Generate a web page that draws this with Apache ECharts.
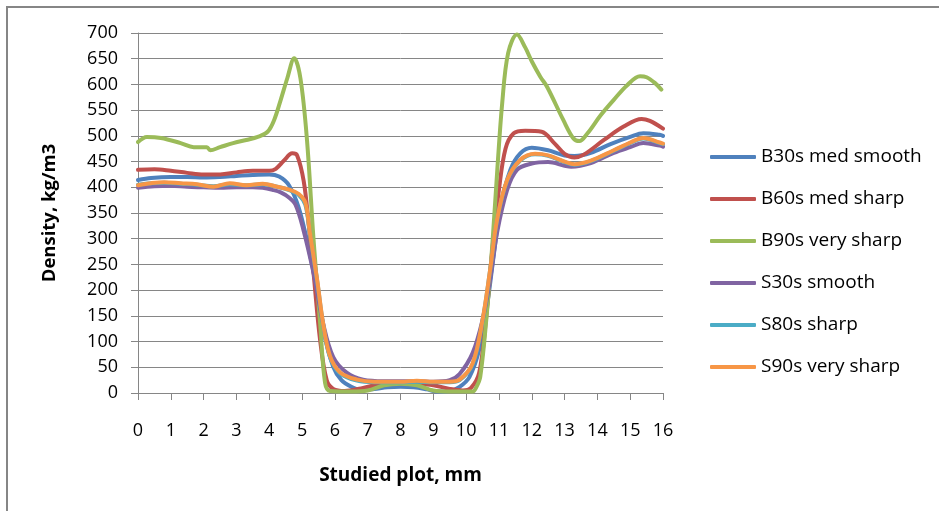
<!DOCTYPE html>
<html>
<head>
<meta charset="utf-8">
<script src="https://cdn.jsdelivr.net/npm/echarts@6/dist/echarts.min.js"></script>
<style>
  html, body { margin: 0; padding: 0; background: #fff; }
  #chart { width: 939px; height: 511px; }
</style>
</head>
<body>
<div id="chart"></div>
<script>
// Density profiles across the studied plot, [position mm, density kg/m3]
const seriesNames = ['B30s med smooth', 'B60s med sharp', 'B90s very sharp', 'S30s smooth', 'S80s sharp', 'S90s very sharp'];
const seriesColors = ['#4F81BD', '#C0504D', '#9BBB59', '#8064A2', '#4BACC6', '#F79646'];

const b30 = [[0,414],[0.4,418],[1,420],[1.5,420],[2,419],[2.5,420],[3,422],[3.5,424],[4,425],[4.3,421],[4.6,404],[4.9,360],[5.2,282],[5.45,202],[5.65,122],[5.95,51],[6.2,25],[6.5,12],[6.8,6],[7.2,8],[7.6,11],[8.0,12],[8.4,11],[8.8,7],[9.1,3],[9.5,4],[9.8,12],[10.1,31],[10.4,85],[10.65,175],[10.85,272],[11.05,362],[11.35,434],[11.65,466],[12.0,477],[12.5,472],[13.0,462],[13.3,461],[13.8,467],[14.4,484],[15.0,498],[15.4,505],[15.9,502],[16,500]];
const b60 = [[0,434],[0.5,435],[1,432],[1.5,428],[2,425],[2.5,425],[3,429],[3.5,432],[4,432],[4.2,436],[4.45,452],[4.7,466],[4.85,462],[5.05,412],[5.2,330],[5.35,233],[5.55,103],[5.75,25],[5.95,8],[6.3,4],[6.8,9],[7.3,16],[8,19],[8.5,18],[9,15],[9.5,8],[9.9,5],[10.15,10],[10.4,40],[10.6,140],[10.8,280],[11.0,395],[11.2,475],[11.45,505],[11.8,510],[12.3,508],[12.7,485],[13.0,465],[13.3,458],[13.6,464],[14.2,492],[14.8,518],[15.35,533],[15.6,529],[16,514]];
const b90 = [[0,488],[0.27,498],[0.7,496],[1.3,486],[1.7,478],[2.1,478],[2.2,472],[2.5,478],[2.9,486],[3.3,492],[3.65,498],[3.95,508],[4.15,531],[4.35,570],[4.55,612],[4.76,651],[4.95,612],[5.15,492],[5.35,298],[5.55,136],[5.7,20],[5.85,4],[6.5,3],[7.0,5],[7.5,15],[8.0,18],[8.5,15],[9.0,5],[9.5,3],[10.2,3],[10.3,10],[10.43,31],[10.64,161],[10.8,290],[10.95,434],[11.1,564],[11.28,661],[11.55,697],[11.8,672],[12.0,645],[12.26,615],[12.47,595],[12.96,531],[13.26,496],[13.45,490],[13.7,505],[14.1,540],[14.5,570],[14.9,598],[15.3,616],[15.5,614],[15.75,603],[15.95,590]];
const s30 = [[0,399],[0.5,402],[1,403],[1.5,401],[2,400],[2.5,399],[3,400],[3.5,400],[3.8,399],[4.1,395],[4.35,390],[4.6,380],[4.8,366],[5.03,320],[5.35,233],[5.64,136],[5.95,70],[6.37,39],[6.86,26],[7.5,23],[8,23],[8.5,23],[9,22],[9.5,25],[9.8,37],[10.2,78],[10.5,142],[10.73,220],[10.94,311],[11.25,395],[11.55,434],[12.0,446],[12.5,449],[13.0,442],[13.2,440],[13.8,447],[14.5,467],[15.0,478],[15.4,486],[15.9,481],[16,479]];
const s80 = [[0,405],[0.4,408],[0.8,409],[1.3,407],[1.8,405],[2.3,402],[2.8,406],[3.3,404],[3.8,406],[4.24,401],[4.63,394],[4.9,385],[5.1,366],[5.24,309],[5.46,218],[5.64,134],[5.85,70],[6.16,38],[6.68,24],[7.2,21],[8,21],[8.5,22],[9,21],[9.5,21],[9.8,25],[10.2,56],[10.5,140],[10.73,238],[10.94,335],[11.25,413],[11.65,452],[12.1,464],[12.5,461],[13.0,449],[13.3,444],[13.8,451],[14.5,471],[15.0,486],[15.4,495],[15.9,486],[16,484]];
const s90 = [[0,404],[0.4,408],[0.8,410],[1.3,408],[1.8,406],[2.3,401],[2.8,408],[3.3,404],[3.8,407],[4.24,401],[4.63,395],[4.9,387],[5.1,370],[5.24,311],[5.46,220],[5.64,136],[5.85,72],[6.16,40],[6.68,26],[7.2,22],[8,22],[8.5,24],[9,22],[9.5,22],[9.8,26],[10.2,58],[10.5,142],[10.73,239],[10.94,336],[11.25,414],[11.65,453],[12.1,465],[12.5,462],[13.0,450],[13.3,445],[13.8,452],[14.5,472],[15.0,487],[15.4,496],[15.9,487],[16,485]];
const seriesData = [b30, b60, b90, s30, s80, s90];

const xTitle = 'Studied plot, mm';
const yTitle = 'Density, kg/m3';

const FONT = 'Open Sans';
const chart = echarts.init(document.getElementById('chart'), null, { renderer: 'canvas' });

chart.setOption({
  backgroundColor: '#ffffff',
  animation: false,
  graphic: [{
    type: 'rect',
    shape: { x: 7, y: 7, width: 960, height: 540 },
    style: { fill: 'none', stroke: '#868686', lineWidth: 2 },
    silent: true
  }],
  grid: { left: 138, right: 276, top: 33, bottom: 118, containLabel: false },
  xAxis: {
    type: 'value', min: 0, max: 16, interval: 1,
    name: xTitle, nameLocation: 'middle', nameGap: 73,
    nameTextStyle: { fontFamily: FONT, fontSize: 19, fontWeight: 'bold', color: '#000' },
    axisLine: { show: true, lineStyle: { color: '#868686', width: 1 } },
    axisTick: { show: true, length: 7, lineStyle: { color: '#868686' } },
    axisLabel: { fontFamily: FONT, fontSize: 18, color: '#000', margin: 29 },
    splitLine: { show: false }
  },
  yAxis: {
    type: 'value', min: 0, max: 700, interval: 50,
    name: yTitle, nameLocation: 'middle', nameGap: 79,
    nameTextStyle: { fontFamily: FONT, fontSize: 18.5, fontWeight: 'bold', color: '#000' },
    axisLine: { show: true, lineStyle: { color: '#868686', width: 1 } },
    axisTick: { show: true, length: 7, lineStyle: { color: '#868686' } },
    axisLabel: { fontFamily: FONT, fontSize: 18, color: '#000', margin: 20 },
    splitLine: { show: true, lineStyle: { color: '#868686', width: 1 } }
  },
  legend: {
    orient: 'vertical', left: 710, top: 147, padding: 0,
    itemWidth: 46, itemHeight: 4, itemGap: 22,
    icon: 'roundRect',
    textStyle: { fontFamily: FONT, fontSize: 19, color: '#000', lineHeight: 20 },
    data: seriesNames.map((n, i) => ({ name: n, itemStyle: { color: seriesColors[i] } }))
  },
  series: seriesNames.map((name, i) => ({
    name: name,
    type: 'line',
    data: seriesData[i],
    smooth: 0.35,
    symbol: 'none',
    color: seriesColors[i],
    lineStyle: { width: 4, color: seriesColors[i], cap: 'round', join: 'round' },
    z: 2 + i
  }))
});
</script>
</body>
</html>
